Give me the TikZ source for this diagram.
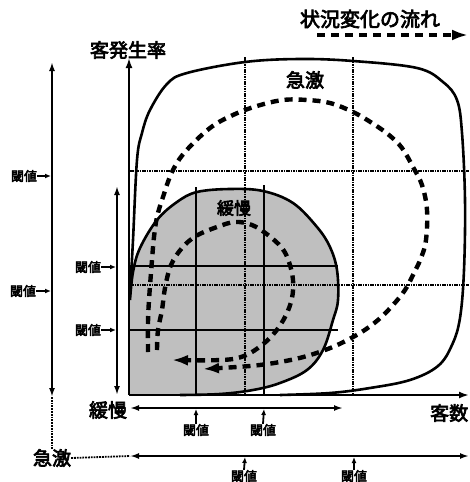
\documentclass[tikz,border=0pt]{standalone}
\usepackage{fontspec}
\newfontfamily\jp[AutoFakeBold=3.5]{Noto Sans CJK JP}
\usetikzlibrary{arrows.meta}
\begin{document}
\begin{tikzpicture}[x=1pt,y=-1pt,
  lbl/.style={font=\jp\bfseries\fontsize{19}{19}\selectfont, inner sep=0pt},
  thr/.style={font=\jp\bfseries\fontsize{13}{13}\selectfont, inner sep=0pt},
  bigdash/.style={line width=4.4pt, dash pattern=on 8pt off 6pt},
  biggrid/.style={line width=1.7pt, dash pattern=on 1.6pt off 0.8pt},
  smallgrid/.style={line width=1.6pt},
  outline/.style={line width=2.6pt},
  axis/.style={line width=2.8pt},
  thin/.style={line width=1.8pt},
  tip/.style={-{Latex[length=10pt,width=7pt]}},
  btip/.style={{Latex[length=9pt,width=6pt]}-{Latex[length=9pt,width=6pt]}},
  ltip/.style={-{Latex[length=16pt,width=11pt]}},
  stip/.style={-{Latex[length=6pt,width=5pt]}}
]
\useasboundingbox (0,0) rectangle (469,482);

% coordinates
\coordinate (O) at (129,395);
\coordinate (Ytop) at (129,58);
\coordinate (Xend) at (469,395);

% grey (slow) region
\fill[gray!50] (130,395) -- plot[smooth,tension=0.6] coordinates {(130,300) (133,272) (140,248) (157,220) (177,202) (197,192) (230,189) (263,191) (293,203) (317,227) (330,247) (337,270) (338,300) (333,320) (323,350) (307,370) (280,383) (253,390) (220,394) (180,395)} -- cycle;

% small grid (solid)
\draw[smallgrid] (130,266) -- (338,266);
\draw[smallgrid] (130,330) -- (338,330);
\draw[smallgrid] (196,187) -- (196,395);
\draw[smallgrid] (264,185) -- (264,395);

% big grid (dotted)
\draw[biggrid] (130,171) -- (469,171);
\draw[biggrid] (130,285) -- (469,285);
\draw[biggrid] (245,57) -- (245,395);
\draw[biggrid] (353,57) -- (353,395);

% grey outline
\draw[outline] plot[smooth,tension=0.6] coordinates {(130,300) (133,272) (140,248) (157,220) (177,202) (197,192) (230,189) (263,191) (293,203) (317,227) (330,247) (337,270) (338,300) (333,320) (323,350) (307,370) (280,383) (253,390) (220,394) (180,395)};

% big (rapid) outline
\draw[outline] plot[smooth,tension=0.6] coordinates {(130,295) (133,240) (137,160) (142,133) (150,110) (167,84) (187,73) (245,62) (300,59) (353,61) (417,68) (443,82) (457,100) (462,133) (465,200) (464,270) (460,318) (452,345) (438,366) (410,380) (370,388) (330,393) (280,395)};

% big dashed loop
\draw[bigdash, ltip] plot[smooth,tension=0.6] coordinates {(148,352) (148,323) (149,300) (152,260) (154,237) (157,217) (163,197) (172,172) (185,152) (210,128) (233,115) (257,106) (283,100) (307,100) (330,103) (353,112) (372,123) (389,135) (402,148) (413,167) (422,185) (427,210) (426,240) (421,258) (413,275) (405,290) (393,305) (378,320) (360,333) (335,346) (307,356) (280,362) (250,366) (203,369)};

% small dashed loop
\draw[bigdash, ltip] plot[smooth,tension=0.6] coordinates {(157,350) (158,330) (162,310) (165,288) (171,265) (182,248) (196,236) (217,227) (235,222) (252,225) (268,235) (282,248) (289,262) (293,280) (292,298) (286,315) (276,331) (262,345) (244,356) (222,360) (172,360)};

% axes
\draw[axis, tip] (O) -- (Ytop);
\draw[axis, tip] (O) -- (Xend);

% labels
\node[lbl, font=\jp\bfseries\fontsize{20}{20}\selectfont] (flow) at (370,19) {状況変化の流れ};
\coordinate (f1) at (317,35);
\coordinate (f2) at (468,35);
\draw[bigdash, ltip] (f1) -- (f2);

\node[lbl] (rate) at (128,50) {客発生率};
\node[lbl] (rapidT) at (305,80) {急激};
\node[lbl, font=\jp\bfseries\fontsize{17}{17}\selectfont] (slowT) at (234,208) {緩慢};
\node[lbl] (slowB) at (108,410) {緩慢};
\node[lbl] (rapidB) at (52,458) {急激};
\node[lbl, anchor=west] (count) at (430,413) {客数};

% outer left axis
\coordinate (oT) at (52,62);
\coordinate (oB) at (52,397);
\draw[thin, btip] (oB) -- (oT);
\draw[thin, densely dotted] (oB) -- (rapidB.north);
\coordinate (bL) at (130,456);
\coordinate (bR) at (469,456);
\draw[thin, densely dotted] (rapidB.east) -- (bL);
\draw[thin, btip] (bL) -- (bR);

% inner left axis
\coordinate (iT) at (117,186);
\coordinate (iB) at (117,395);
\draw[thin, btip] (iB) -- (iT);
\coordinate (mL) at (130,408);
\coordinate (mR) at (343,408);
\draw[thin, btip] (mL) -- (mR);

% thresholds
\node[thr] (t1) at (24,176) {閾値};
\node[thr] (t2) at (23,291) {閾値};
\node[thr] (t3) at (88,267) {閾値};
\node[thr] (t4) at (88,330) {閾値};
\node[thr] (t5) at (196,430) {閾値};
\node[thr] (t6) at (263,430) {閾値};
\node[thr] (t7) at (244,476) {閾値};
\node[thr] (t8) at (354,476) {閾値};
\coordinate (a1) at (51,176);
\coordinate (a2) at (51,291);
\coordinate (a3) at (116,267);
\coordinate (a4) at (116,330);
\coordinate (a5) at (196,409);
\coordinate (a6) at (264,409);
\coordinate (a7) at (245,457);
\coordinate (a8) at (354,457);
\draw[thin, stip] (t1.east) -- (a1);
\draw[thin, stip] (t2.east) -- (a2);
\draw[thin, stip] (t3.east) -- (a3);
\draw[thin, stip] (t4.east) -- (a4);
\draw[thin, stip] (t5.north) -- (a5);
\draw[thin, stip] (t6.north) -- (a6);
\draw[thin, stip] (t7.north) -- (a7);
\draw[thin, stip] (t8.north) -- (a8);
\end{tikzpicture}
\end{document}
